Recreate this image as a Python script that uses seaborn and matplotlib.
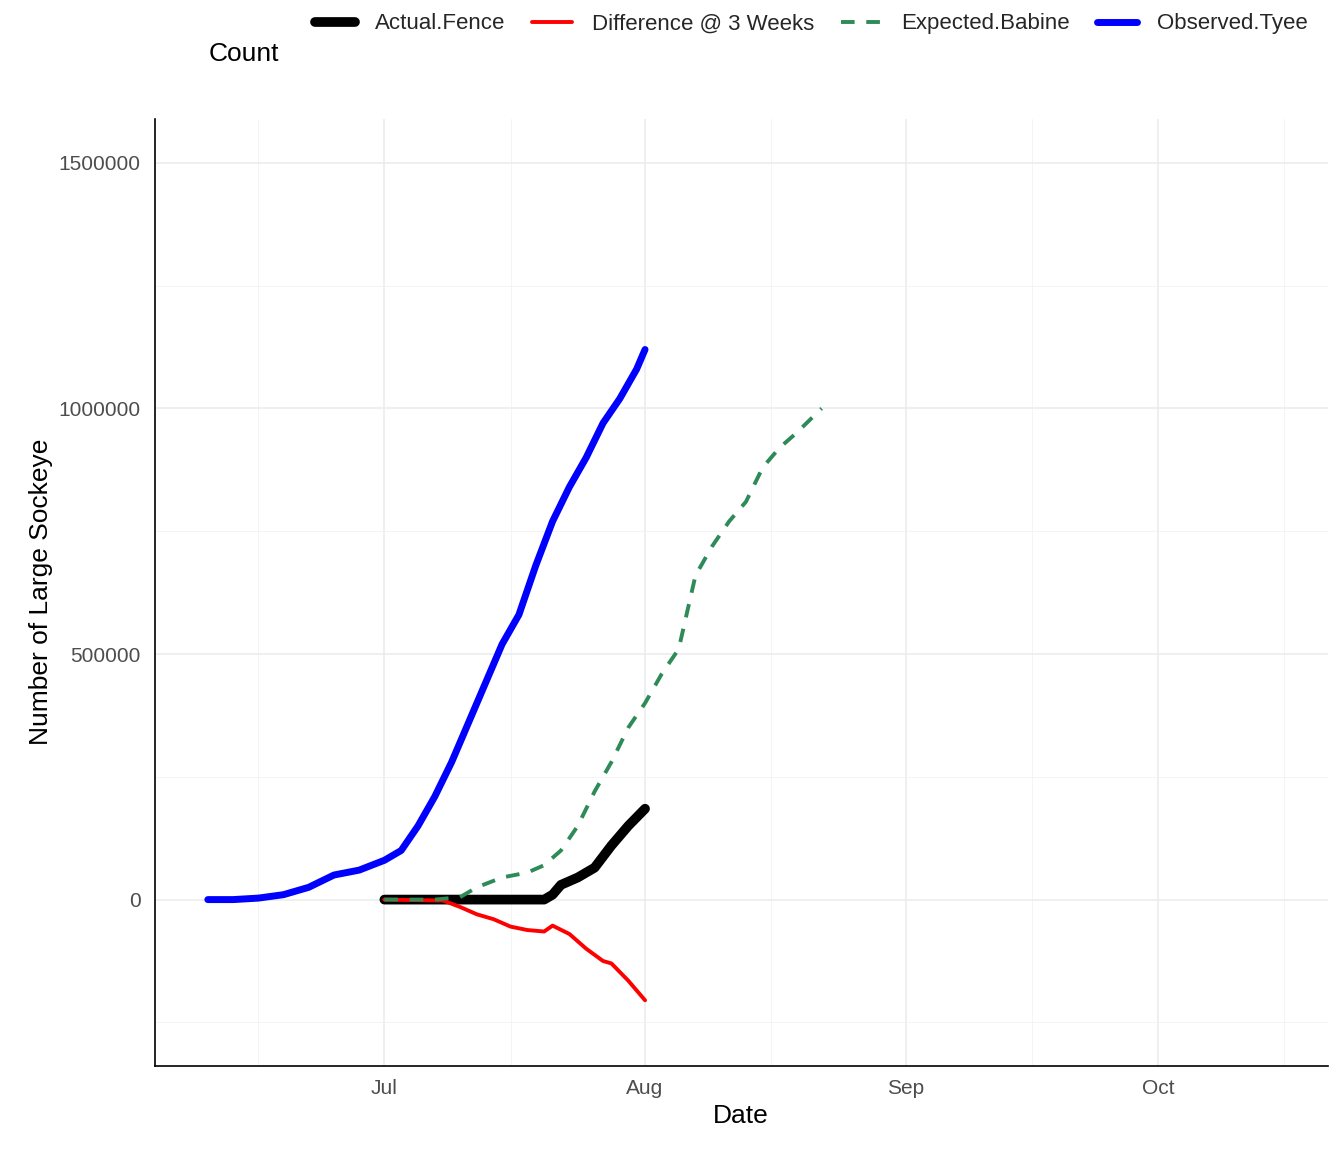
import pandas as pd, numpy as np, matplotlib
matplotlib.use("Agg")
import matplotlib.pyplot as plt, matplotlib.dates as mdates
import seaborn as sns

tyee_dates = ["2023-06-10","2023-06-13","2023-06-16","2023-06-19","2023-06-22","2023-06-25","2023-06-28","2023-07-01","2023-07-03","2023-07-05","2023-07-07","2023-07-09","2023-07-11","2023-07-13","2023-07-15","2023-07-17","2023-07-19","2023-07-21","2023-07-23","2023-07-25","2023-07-27","2023-07-29","2023-07-31","2023-08-01"]
tyee_vals = [0,0,3000,10000,25000,50000,60000,80000,100000,150000,210000,280000,360000,440000,520000,580000,680000,770000,840000,900000,970000,1020000,1080000,1120000]
fence_dates = ["2023-07-01","2023-07-10","2023-07-20","2023-07-21","2023-07-22","2023-07-24","2023-07-26","2023-07-28","2023-07-30","2023-08-01"]
fence_vals = [0,0,0,10000,30000,45000,65000,110000,150000,185000]
diff_dates = ["2023-07-01","2023-07-08","2023-07-10","2023-07-12","2023-07-14","2023-07-16","2023-07-18","2023-07-20","2023-07-21","2023-07-23","2023-07-25","2023-07-27","2023-07-28","2023-07-30","2023-08-01"]
diff_vals = [0,-2000,-15000,-30000,-40000,-55000,-62000,-65000,-53000,-70000,-100000,-125000,-130000,-165000,-205000]
bab_dates = ["2023-07-01","2023-07-07","2023-07-10","2023-07-12","2023-07-15","2023-07-18","2023-07-20","2023-07-22","2023-07-24","2023-07-26","2023-07-28","2023-07-30","2023-08-01","2023-08-03","2023-08-05","2023-08-07","2023-08-09","2023-08-11","2023-08-13","2023-08-15","2023-08-17","2023-08-19","2023-08-22"]
bab_vals = [0,0,5000,25000,45000,55000,70000,100000,150000,220000,280000,350000,400000,460000,510000,660000,720000,770000,810000,880000,920000,950000,1000000]

series = [("Actual.Fence", fence_dates, fence_vals, "black", 7, "-"),
          ("Difference @ 3 Weeks", diff_dates, diff_vals, "red", 2.8, "-"),
          ("Expected.Babine", bab_dates, bab_vals, "#2E8B57", 2.8, (0,(3.5,3))),
          ("Observed.Tyee", tyee_dates, tyee_vals, "blue", 5, "-")]

sns.set_style("white")
plt.rcParams['font.family'] = ['Liberation Sans', 'DejaVu Sans']
fig, ax = plt.subplots(figsize=(13.44, 11.52), dpi=100)
fig.subplots_adjust(left=0.115, right=0.988, top=0.897, bottom=0.075)
for name, d, v, c, lw, ls in series:
    df = pd.DataFrame({"Date": pd.to_datetime(d), "v": v})
    sns.lineplot(data=df, x="Date", y="v", ax=ax, color=c, linewidth=lw, linestyle=ls, label=name)

ax.set_xlim(pd.Timestamp("2023-06-03 16:00"), pd.Timestamp("2023-10-21 05:00"))
ax.set_ylim(-338000, 1590000)
ax.xaxis.set_major_locator(mdates.MonthLocator(bymonth=[7,8,9,10]))
ax.xaxis.set_major_formatter(mdates.DateFormatter("%b"))
ax.xaxis.set_minor_locator(mdates.DayLocator(bymonthday=16))
ax.set_yticks([0,500000,1000000,1500000])
ax.set_yticklabels(["0","500000","1000000","1500000"])
ax.set_yticks([-250000,250000,750000,1250000], minor=True)
ax.grid(True, which="major", color="#EBEBEB", linewidth=1.1)
ax.grid(True, which="minor", color="#F2F2F2", linewidth=0.6)
ax.tick_params(which="both", length=0, labelsize=15, colors="#4D4D4D", pad=6)
ax.tick_params(which="major", length=4, color="black")
for s in ["top","right"]: ax.spines[s].set_visible(False)
for s in ["left","bottom"]: ax.spines[s].set_linewidth(1.2); ax.spines[s].set_color("black")
ax.set_xlabel("Date", fontsize=19, color="black")
ax.set_ylabel("Number of Large Sockeye", fontsize=19, color="black")
ax.legend(ncol=4, loc="center left", bbox_to_anchor=(0.12, 1.1), frameon=False,
          fontsize=16, handlelength=1.8, columnspacing=1.2, handletextpad=0.9)
fig.text(0.155, 0.953, "Count", fontsize=19, va="center", ha="left", color="black")
plt.savefig("out.png")
